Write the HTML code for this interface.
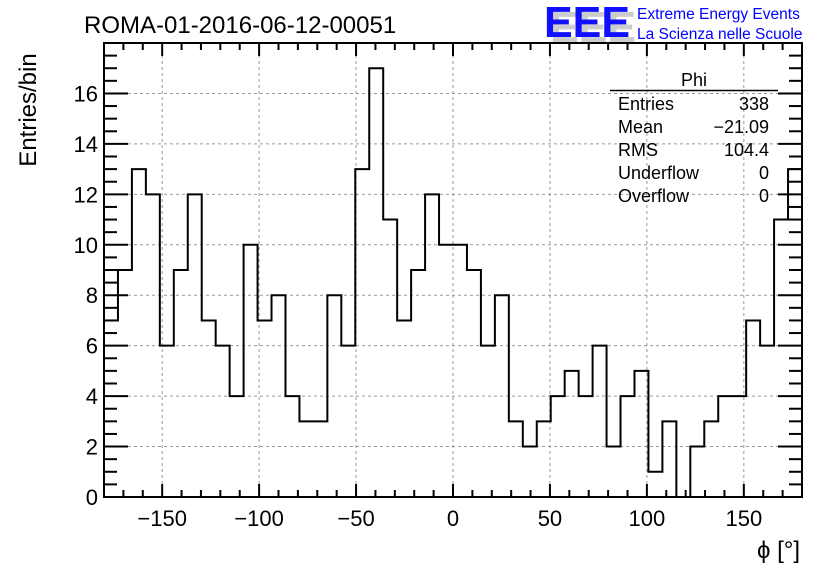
<!DOCTYPE html>
<html><head><meta charset="utf-8"><style>
body{margin:0;background:#fff;}
svg text{font-family:"Liberation Sans",Arial,sans-serif;}
</style></head><body>
<svg id="c" width="836" height="572" xmlns="http://www.w3.org/2000/svg">
<rect width="836" height="572" fill="#fff"/>
<text x="84" y="33" font-size="24" fill="#000">ROMA-01-2016-06-12-00051</text>
<g>
<text x="550" y="42" font-size="44" font-weight="bold" fill="#ccc" textLength="86" lengthAdjust="spacingAndGlyphs">EEE</text>
<text x="544" y="37" font-size="44" font-weight="bold" fill="#1010ff" textLength="86" lengthAdjust="spacingAndGlyphs">EEE</text>
<text x="637" y="19" font-size="15.5" fill="#0000ff">Extreme Energy Events</text>
<text x="637" y="39" font-size="15.5" fill="#0000ff">La Scienza nelle Scuole</text>
</g>
<g id="grid"></g>
<g id="hist"></g>
<g id="axes"></g>
<g font-size="18">
<text x="694" y="86" text-anchor="middle">Phi</text>
<line x1="610" y1="90.5" x2="778" y2="90.5" stroke="#000" stroke-width="1.5"/>
<text x="618" y="110">Entries</text><text x="769" y="110" text-anchor="end">338</text>
<text x="618" y="133">Mean</text><text x="769" y="133" text-anchor="end">−21.09</text>
<text x="618" y="156">RMS</text><text x="769" y="156" text-anchor="end">104.4</text>
<text x="618" y="179">Underflow</text><text x="769" y="179" text-anchor="end">0</text>
<text x="618" y="202">Overflow</text><text x="769" y="202" text-anchor="end">0</text>
</g>
<text x="36" y="110" font-size="24" transform="rotate(-90 36 110)" text-anchor="middle">Entries/bin</text>
<text x="800" y="558" font-size="24" text-anchor="end">ϕ [°]</text>
</svg>
<script>
const counts=[7,9,13,12,6,9,12,7,6,4,10,7,8,4,3,3,8,6,13,17,11,7,9,12,10,10,9,6,8,3,2,3,4,5,4,6,2,4,5,1,3,0,2,3,4,4,7,6,11,13];
const xTicks=[-150,-100,-50,0,50,100,150];
const yTicks=[0,2,4,6,8,10,12,14,16];
const xMin=-180,xMax=180,yMax=18;
const L=104,R=802,T=43,B=497;
const sx=v=>L+(v-xMin)/(xMax-xMin)*(R-L);
const sy=v=>B-v/yMax*(B-T);
const NS="http://www.w3.org/2000/svg";
function mk(tag,attrs,parent){const e=document.createElementNS(NS,tag);for(const k in attrs)e.setAttribute(k,attrs[k]);parent.appendChild(e);return e;}
const grid=document.getElementById('grid'),hist=document.getElementById('hist'),axes=document.getElementById('axes');
xTicks.forEach(v=>{const l=mk('line',{x1:sx(v),x2:sx(v),y1:T,y2:B,stroke:'#999','stroke-dasharray':'3,3','stroke-width':1},grid);

});
yTicks.forEach(v=>{if(v===0)return;const l=mk('line',{x1:L,x2:R,y1:sy(v),y2:sy(v),stroke:'#999','stroke-dasharray':'3,3','stroke-width':1},grid);

});
const w=(xMax-xMin)/counts.length;
let d='M'+sx(xMin)+','+sy(0);
counts.forEach((c,i)=>{d+=' L'+sx(xMin+i*w)+','+sy(c)+' L'+sx(xMin+(i+1)*w)+','+sy(c);});
d+=' L'+sx(xMax)+','+sy(0);
const p=mk('path',{d:d,fill:'none',stroke:'#000','stroke-width':2},hist);


const fr=mk('rect',{x:L,y:T,width:R-L,height:B-T,fill:'none',stroke:'#000','stroke-width':2},axes);


for(let v=-170;v<=170;v+=10){const maj=v%50===0;const len=maj?13:7;
mk('line',{x1:sx(v),x2:sx(v),y1:B,y2:B-len,stroke:'#000','stroke-width':2},axes);
mk('line',{x1:sx(v),x2:sx(v),y1:T,y2:T+len,stroke:'#000','stroke-width':2},axes);}
for(let v=0.5;v<yMax;v+=0.5){const maj=v%2===0;const len=maj?24:13;
mk('line',{x1:L,x2:L+len,y1:sy(v),y2:sy(v),stroke:'#000','stroke-width':2},axes);
mk('line',{x1:R,x2:R-len,y1:sy(v),y2:sy(v),stroke:'#000','stroke-width':2},axes);}
xTicks.forEach(v=>{const t=mk('text',{x:sx(v),y:B+29,'font-size':22,'text-anchor':'middle'},axes);t.textContent=v<0?'−'+(-v):String(v);

});
yTicks.forEach(v=>{const t=mk('text',{x:L-6,y:sy(v)+8,'font-size':22,'text-anchor':'end'},axes);t.textContent=String(v);

});
</script>
</body></html>
